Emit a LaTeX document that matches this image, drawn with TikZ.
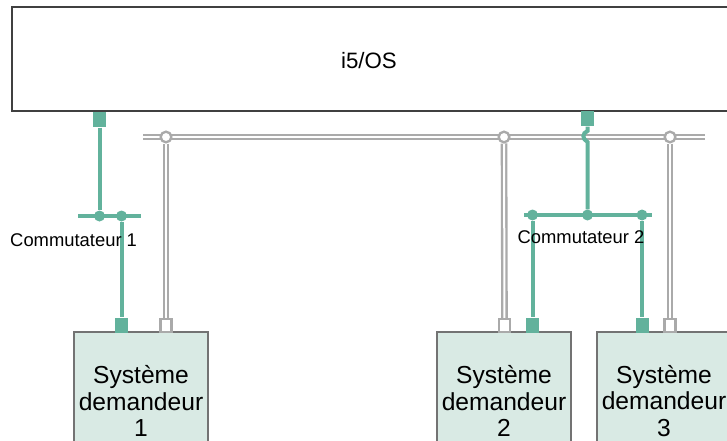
\documentclass[tikz,border=0pt]{standalone}
\usepackage{fontspec}
\setmainfont{Liberation Sans}
\usetikzlibrary{positioning, backgrounds}
\definecolor{swgreen}{HTML}{62B29C}
\definecolor{sysfill}{HTML}{D9EAE4}
\definecolor{busgray}{HTML}{AAAAAA}
\tikzstyle{line} = [swgreen, line width=1.2mm]
\tikzstyle{bus} = [draw=busgray, double=white, line width=0.7mm, double distance=0.6mm]
\tikzset{
	osbox/.style={rectangle, draw=black!75, line width=0.5mm, fill=white, minimum width=218.4mm, minimum height=31.2mm},
	sysbox/.style={rectangle, draw=black!55, line width=0.35mm, fill=sysfill, minimum width=40.2mm, minimum height=41.4mm, align=center, inner sep=0pt, font=\fontsize{21}{22.5}\selectfont},
	gport/.style={rectangle, fill=swgreen, minimum width=3.9mm, minimum height=4.7mm, inner sep=0pt},
	wport/.style={rectangle, draw=busgray, line width=0.7mm, fill=white, minimum width=3.3mm, minimum height=3.9mm, inner sep=0pt},
	joint/.style={circle, draw=busgray, line width=0.7mm, fill=white, minimum size=3.2mm, inner sep=0pt},
	swdot/.style={circle, fill=swgreen, minimum size=3.3mm, inner sep=0pt},
	swlabel/.style={font=\fontsize{15.7}{17}\selectfont, inner sep=0pt}
}

\begin{document}
\begin{tikzpicture}[x=0.3mm, y=-0.3mm]
		\useasboundingbox (0,0) rectangle (727,440);
		\clip (0,0) rectangle (727,440);
		
		% Nodes
		\node (os) [osbox] at (376,59) {};
		\node (oslabel) [font=\fontsize{19}{21}\selectfont, inner sep=0pt] at (369,61) {i5/OS};
		\node (sys1) [sysbox] at (141,401) {Système\\demandeur\\1};
		\node (sys2) [sysbox] at (504,401) {Système\\demandeur\\2};
		\node (sys3) [sysbox] at (664,401) {Système\\demandeur\\3};
		
		% Ports
		\node (top1) [gport] at (99.5,119.5) {};
		\node (top2) [gport] at (587.5,118.5) {};
		\node (g1) [gport] at (121.5,325.5) {};
		\node (w1) [wport] at (166,325.5) {};
		\node (w2) [wport] at (504.5,325.5) {};
		\node (g2) [gport] at (532.5,325.5) {};
		\node (g3) [gport] at (642,325.5) {};
		\node (w3) [wport] at (670,325.5) {};
		
		% Bus
		\coordinate (busl) at (143,137);
		\coordinate (busr) at (705,137);
		\node (j1) [joint] at (166,137) {};
		\node (j2) [joint] at (504,137) {};
		\node (j3) [joint] at (670,137) {};
		
		% Switches
		\coordinate (sw1l) at (78,216);
		\coordinate (sw1r) at (141,216);
		\node (sw1a) [swdot] at (99.5,216) {};
		\node (sw1b) [swdot] at (121.5,216) {};
		\node (sw1lab) [swlabel, anchor=west] at (10,240) {Commutateur 1};
		\coordinate (sw2l) at (524,215);
		\coordinate (sw2r) at (652,215);
		\node (sw2a) [swdot] at (532.5,215) {};
		\node (sw2m) [swdot] at (587.5,215) {};
		\node (sw2b) [swdot] at (642,215) {};
		\node (sw2lab) [swlabel] at (581,237) {Commutateur 2};
		
		% Lines
		\begin{scope}[on background layer]
			\draw [bus] (busl) -- (busr);
			\draw [bus] (j1) -- (w1);
			\draw [bus] (j2) -- (w2);
			\draw [bus] (j3) -- (w3);
			\draw [line] (sw1l) -- (sw1r);
			\draw [line] (top1) -- (sw1a);
			\draw [line] (sw1b) -- (g1);
			\draw [line] (sw2l) -- (sw2r);
			\draw [line] (top2) -- (587.5,131) .. controls (582,133) and (582,139) .. (587.5,142) -- (sw2m);
			\draw [line] (sw2a) -- (g2);
			\draw [line] (sw2b) -- (g3);
		\end{scope}
		
	\end{tikzpicture}
\end{document}
